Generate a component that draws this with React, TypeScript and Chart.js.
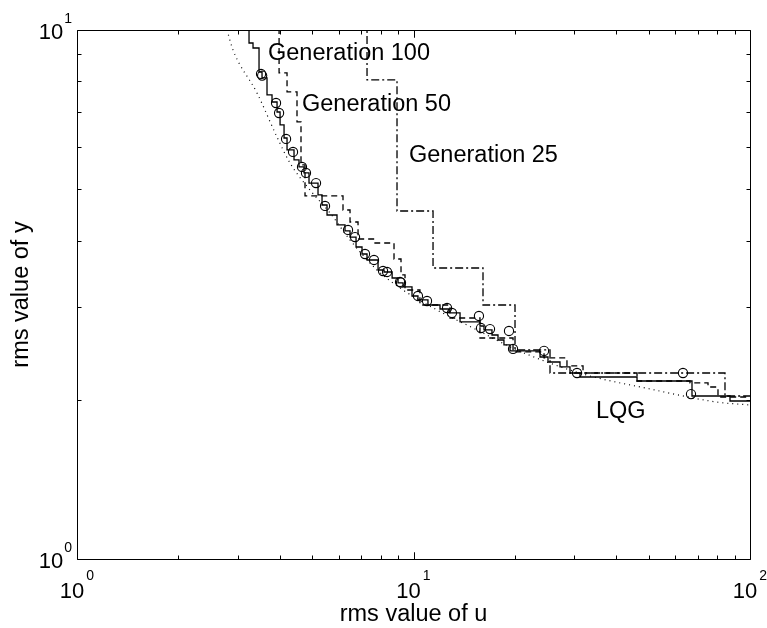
import React, { useEffect, useRef } from "react";
import { Chart, registerables } from "chart.js";

Chart.register(...registerables);

// LQG trade-off curve (dotted)
const lqgU = [2.791, 2.908, 3.427, 3.929, 4.295, 4.925, 5.647, 6.477, 7.791, 9.307, 11.75, 15.44, 20.3, 31.9, 50.45, 79.79, 100];
const lqgY = [10, 9.166, 7.602, 6.277, 5.605, 4.984, 4.51, 4.009, 3.518, 3.225, 2.956, 2.71, 2.484, 2.237, 2.096, 1.98, 1.955];

// Generation 100 front (solid staircase)
const gen100U = [3.245, 3.335, 3.475, 3.547, 3.67, 3.798, 3.931, 4.013, 4.124, 4.209, 4.415, 4.568, 4.727, 4.892, 5.203, 5.348, 5.534, 5.925, 6.258, 6.477, 6.749, 7.031, 7.276, 7.846, 8.175, 8.639, 8.995, 9.308, 9.898, 10.31, 11.04, 11.99, 12.75, 13.75, 15.76, 16.2, 17.11, 17.83, 18.57, 19.36, 23.77, 25.1, 27.25, 29.18, 31.25, 46.16, 67.24, 87.21, 100];
const gen100Y = [12, 9.45, 9.247, 8.33, 8.117, 7.537, 7.31, 6.998, 6.615, 6.25, 5.933, 5.68, 5.51, 5.368, 5.137, 4.877, 4.669, 4.47, 4.28, 4.17, 4.061, 3.889, 3.772, 3.675, 3.518, 3.488, 3.398, 3.325, 3.268, 3.142, 3.088, 3.021, 2.969, 2.918, 2.806, 2.757, 2.71, 2.651, 2.594, 2.539, 2.474, 2.409, 2.357, 2.307, 2.247, 2.208, 2.17, 2.033, 1.989];

// Generation 50 front (dashed staircase)
const gen50U = [3.986, 4.209, 4.506, 4.631, 4.76, 6.173, 6.477, 6.842, 7.684, 8.752, 9.181, 9.436, 10.45, 12.84, 15.76, 19.76, 24.43, 28.58, 31.9, 46.16, 66.32, 75.03, 80.33, 100];
const gen50Y = [12, 8.294, 7.636, 6.702, 5.558, 4.856, 4.568, 4.336, 4.026, 3.957, 3.691, 3.443, 3.225, 3.021, 2.855, 2.617, 2.463, 2.399, 2.317, 2.247, 2.17, 2.152, 2.114, 2.024];

// Generation 25 front (dash-dot staircase)
const gen25U = [7.276, 8.933, 11.43, 16.09, 20.03, 25.45, 84.27, 100];
const gen25Y = [12, 8.047, 4.548, 3.549, 3.021, 2.484, 2.247, 2.033];

// Generation 100 population (circles)
const popU = [3.523, 3.55, 3.904, 3.986, 4.181, 4.385, 4.663, 4.792, 5.133, 5.459, 6.389, 6.703, 7.177, 7.632, 8.119, 8.345, 9.119, 9.18, 10.31, 10.97, 12.58, 13.01, 15.65, 15.87, 16.88, 19.22, 19.76, 24.43, 30.62, 63.22, 66.78];
const popY = [8.258, 8.2, 7.278, 6.968, 6.223, 5.881, 5.51, 5.368, 5.137, 4.649, 4.188, 4.061, 3.772, 3.675, 3.503, 3.488, 3.34, 3.33, 3.142, 3.074, 2.982, 2.918, 2.88, 2.733, 2.721, 2.698, 2.495, 2.474, 2.247, 2.247, 2.05];

// Tick labels
const xTickValues = [1, 10, 100];
const xTickExps = ["0", "1", "2"];
const yTickValues = [1, 10];
const yTickExps = ["0", "1"];

// Text annotations
const noteTexts = ["Generation 100", "Generation 50", "Generation 25", "LQG"];
const noteU = [3.695, 4.663, 9.697, 34.86];
const noteY = [8.777, 7.029, 5.629, 1.847];

const xTitle = "rms value of u";
const yTitle = "rms value of y";

const FONT = '"Liberation Sans", Arial, Helvetica, sans-serif';

const toPts = (u: number[], y: number[]) => u.map((v, i) => ({ x: v, y: y[i] }));

const axesPlugin = {
  id: "matlabAxes",
  afterDraw(chart: any) {
    const { ctx, chartArea } = chart;
    const { left, right, top, bottom } = chartArea;
    const xs = chart.scales.x;
    const ys = chart.scales.y;
    ctx.save();
    ctx.strokeStyle = "#000";
    ctx.fillStyle = "#000";
    ctx.lineWidth = 1;
    ctx.setLineDash([]);
    const L = Math.round(left) + 0.5;
    const R = Math.round(right) + 0.5;
    const T = Math.round(top) + 0.5;
    const B = Math.round(bottom) + 0.5;
    ctx.beginPath();
    ctx.moveTo(L, T);
    ctx.lineTo(R, T);
    ctx.lineTo(R, B);
    ctx.lineTo(L, B);
    ctx.closePath();
    ctx.stroke();

    ctx.beginPath();
    for (const d of [1, 10]) {
      for (let k = 1; k <= 10; k++) {
        const v = k * d;
        if (v > 100) continue;
        const p = Math.round(xs.getPixelForValue(v)) + 0.5;
        const len = k === 1 || k === 10 ? 7 : 4;
        ctx.moveTo(p, B);
        ctx.lineTo(p, B - len);
        ctx.moveTo(p, T);
        ctx.lineTo(p, T + len);
      }
    }
    for (let k = 1; k <= 10; k++) {
      const p = Math.round(ys.getPixelForValue(k)) + 0.5;
      const len = k === 1 || k === 10 ? 7 : 4;
      ctx.moveTo(L, p);
      ctx.lineTo(L + len, p);
      ctx.moveTo(R, p);
      ctx.lineTo(R - len, p);
    }
    ctx.stroke();

    const bigFont = "22px " + FONT;
    const smallFont = "14px " + FONT;
    ctx.textBaseline = "alphabetic";
    ctx.textAlign = "left";
    xTickValues.forEach((v, i) => {
      const p = xs.getPixelForValue(v);
      ctx.font = bigFont;
      const w1 = ctx.measureText("10").width;
      ctx.font = smallFont;
      const w2 = ctx.measureText(xTickExps[i]).width;
      const start = p - (w1 + w2 + 2) / 2;
      ctx.font = bigFont;
      ctx.fillText("10", start, bottom + 39);
      ctx.font = smallFont;
      ctx.fillText(xTickExps[i], start + w1 + 2, bottom + 21);
    });
    yTickValues.forEach((v, i) => {
      const p = ys.getPixelForValue(v);
      ctx.font = bigFont;
      const w1 = ctx.measureText("10").width;
      ctx.font = smallFont;
      const w2 = ctx.measureText(yTickExps[i]).width;
      const rightEdge = left - 5;
      ctx.fillText(yTickExps[i], rightEdge - w2, p - 7);
      ctx.font = bigFont;
      ctx.fillText("10", rightEdge - w2 - 1 - w1, p + 9);
    });

    const titleFont = "23.5px " + FONT;
    ctx.font = titleFont;
    ctx.textAlign = "center";
    ctx.fillText(xTitle, (left + right) / 2, bottom + 62);
    ctx.save();
    ctx.translate(28, (top + bottom) / 2);
    ctx.rotate(-Math.PI / 2);
    ctx.fillText(yTitle, 0, 0);
    ctx.restore();

    ctx.textAlign = "left";
    ctx.font = titleFont;
    noteTexts.forEach((t, i) => {
      ctx.fillText(t, xs.getPixelForValue(noteU[i]), ys.getPixelForValue(noteY[i]));
    });
    ctx.restore();
  },
};

export default function App() {
  const canvasRef = useRef<HTMLCanvasElement | null>(null);

  useEffect(() => {
    const canvas = canvasRef.current;
    if (!canvas) return;
    const lineBase = {
      showLine: true,
      pointRadius: 0,
      borderColor: "#000",
      borderWidth: 1.3,
      fill: false,
      clip: 0,
    };
    const chart = new Chart(canvas, {
      type: "line",
      data: {
        datasets: [
          {
            ...lineBase,
            label: "LQG",
            borderWidth: 1.2,
            data: toPts(lqgU, lqgY),
            borderDash: [1, 4],
            cubicInterpolationMode: "monotone",
          },
          {
            ...lineBase,
            label: "Generation 25",
            data: toPts(gen25U, gen25Y),
            stepped: "after",
            borderDash: [8, 3, 2, 3],
          },
          {
            ...lineBase,
            label: "Generation 50",
            data: toPts(gen50U, gen50Y),
            stepped: "after",
            borderDash: [6, 4],
          },
          {
            ...lineBase,
            label: "Generation 100",
            data: toPts(gen100U, gen100Y),
            stepped: "after",
          },
          {
            label: "Population",
            data: toPts(popU, popY),
            showLine: false,
            pointRadius: 4.6,
            pointStyle: "circle",
            pointBorderColor: "#000",
            pointBackgroundColor: "rgba(0,0,0,0)",
            pointBorderWidth: 1.1,
            borderColor: "#000",
          },
        ],
      } as any,
      options: {
        animation: false,
        responsive: false,
        maintainAspectRatio: false,
        devicePixelRatio: 1,
        events: [],
        layout: { padding: { left: 77, top: 30, right: 17, bottom: 69 } },
        plugins: {
          legend: { display: false },
          title: { display: false },
          tooltip: { enabled: false },
        },
        scales: {
          x: { type: "logarithmic", min: 1, max: 100, display: false },
          y: { type: "logarithmic", min: 1, max: 10, display: false },
        },
      } as any,
      plugins: [axesPlugin],
    });
    return () => chart.destroy();
  }, []);

  return (
    <div style={{ position: "fixed", left: 0, top: 0, width: 767, height: 628, background: "#fff" }}>
      <canvas ref={canvasRef} width={767} height={628} style={{ display: "block" }} />
    </div>
  );
}
